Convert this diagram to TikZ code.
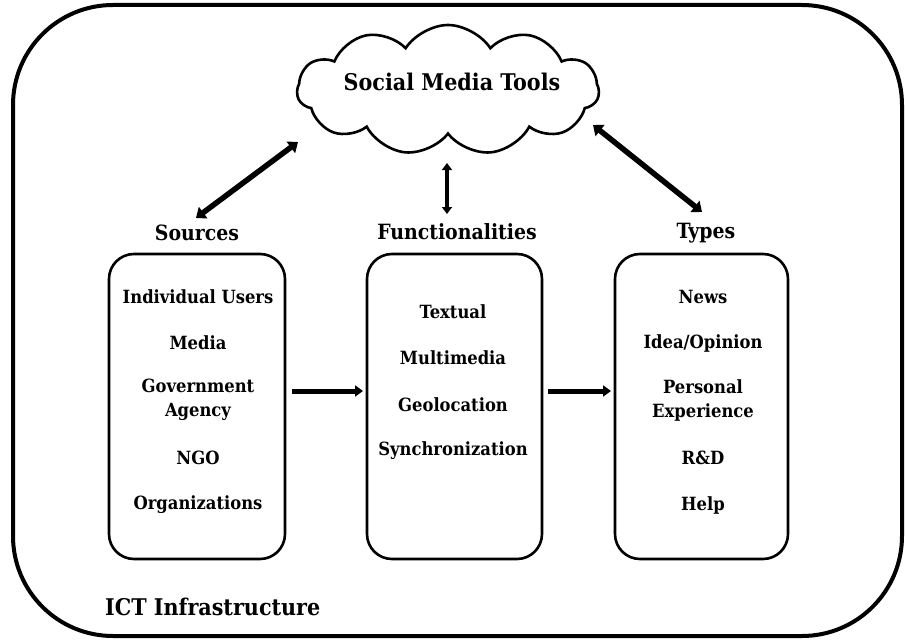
\documentclass[tikz,border=0pt]{standalone}
\usepackage{fontspec}
\setmainfont{DejaVu Serif Condensed}
\usetikzlibrary{shapes.symbols,arrows.meta}
\begin{document}
\begin{tikzpicture}[x=1pt,y=-1pt,
  every node/.style={font=\bfseries\fontsize{18.2}{24}\selectfont, inner sep=0pt},
  box/.style={draw, line width=2.6pt, rounded corners=25pt, minimum height=305pt},
  item/.style={align=center},
  head/.style={font=\bfseries\fontsize{21}{24}\selectfont},
  dbl/.style={line width=5.5pt, {Triangle[length=9pt,width=14pt]}-{Triangle[length=9pt,width=14pt]}},
  dblthin/.style={line width=4pt, {Triangle[length=7pt,width=10pt]}-{Triangle[length=7pt,width=10pt]}},
  sgl/.style={line width=5pt, -{Triangle[length=8pt,width=11pt]}}]
\useasboundingbox (0,0) rectangle (905,642);
\draw[line width=4pt, rounded corners=100pt] (13,5) rectangle (902,636);

% cloud
\node[cloud, draw, line width=2.6pt, cloud puffs=11, cloud puff arc=115, aspect=2.3,
      minimum width=302pt, minimum height=130pt] (cloud) at (448,90) {};
\node[font=\bfseries\fontsize{23}{26}\selectfont] (smt) at (452,82) {Social Media Tools};

% headings
\node[head] (src) at (197,233) {Sources};
\node[head] (fun) at (457,232) {Functionalities};
\node[head] (typ) at (706,233) {Types};

% boxes
\node[box, minimum width=176pt] (b1) at (197,406.5) {};
\node[box, minimum width=175pt] (b2) at (454.5,406.5) {};
\node[box, minimum width=173pt] (b3) at (701.5,406.5) {};

% left items
\node[item] (l1) at (198,297) {Individual Users};
\node[item] (l2) at (198,343) {Media};
\node[item] (l3) at (198,400) {Government\\Agency};
\node[item] (l4) at (198,458) {NGO};
\node[item] (l5) at (198,505) {Organizations};

% middle items
\node[item] (m1) at (453,312) {Textual};
\node[item] (m2) at (453,358) {Multimedia};
\node[item] (m3) at (453,405) {Geolocation};
\node[item] (m4) at (453,451) {Synchronization};

% right items
\node[item] (r1) at (703,297) {News};
\node[item] (r2) at (703,343) {Idea/Opinion};
\node[item] (r3) at (703,400) {Personal\\Experience};
\node[item] (r4) at (703,458) {R\&D};
\node[item] (r5) at (703,505) {Help};

\node[font=\bfseries\fontsize{23}{26}\selectfont, anchor=west] (ict) at (105,607) {ICT Infrastructure};

% connector ends
\coordinate (a1s) at (298,142);
\coordinate (a1e) at (196,218);
\coordinate (a2s) at (447,163);
\coordinate (a2e) at (447,214);
\coordinate (a3s) at (593,125);
\coordinate (a3e) at (702,212);
\coordinate (h1s) at (292,391);
\coordinate (h1e) at (363,391);
\coordinate (h2s) at (548,391);
\coordinate (h2e) at (611,391);

\draw[dbl] (a1s) -- (a1e);
\draw[dblthin] (a2s) -- (a2e);
\draw[dbl] (a3s) -- (a3e);
\draw[sgl] (h1s) -- (h1e);
\draw[sgl] (h2s) -- (h2e);
\end{tikzpicture}
\end{document}
